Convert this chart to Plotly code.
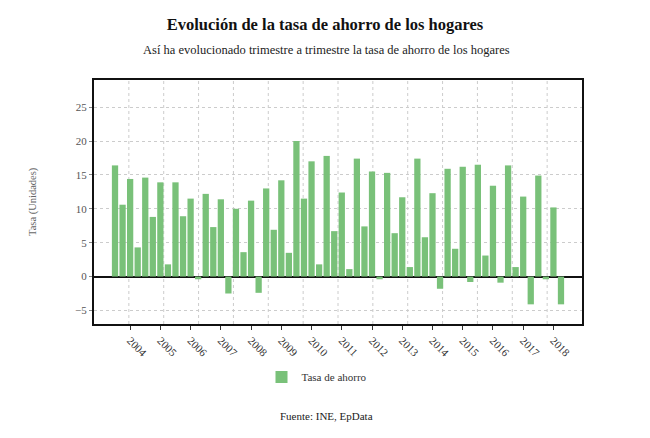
import plotly.graph_objects as go

# Quarterly household saving rate (INE), 2003T3 .. 2018T2
quarters = [f"{y}T{q}" for y in range(2003, 2019) for q in range(1, 5)][2:62]
values = [
    16.4, 10.6, 14.4, 4.3, 14.6, 8.8, 13.9, 1.8, 13.9, 8.9,
    11.5, -0.4, 12.2, 7.3, 11.4, -2.5, 10.0, 3.6, 11.2, -2.4,
    13.0, 6.9, 14.2, 3.5, 20.0, 11.5, 17.0, 1.8, 17.8, 6.7,
    12.4, 1.1, 17.4, 7.4, 15.5, -0.4, 15.3, 6.4, 11.7, 1.4,
    17.4, 5.8, 12.3, -1.8, 15.9, 4.1, 16.2, -0.8, 16.5, 3.1,
    13.4, -0.9, 16.4, 1.4, 11.8, -4.1, 14.9, -0.4, 10.2, -4.1,
]
year_ticks = [f"{y}T1" for y in range(2004, 2019)]
year_labels = [str(y) for y in range(2004, 2019)]
y_ticks = [-5, 0, 5, 10, 15, 20, 25]

SERIF = "Liberation Serif"
GREEN = "#79c179"

fig = go.Figure()
fig.add_trace(go.Bar(
    x=quarters, y=values, name="Tasa de ahorro",
    marker=dict(color=GREEN, line=dict(width=0)),
))

shapes = []
for i in range(1, 14):
    shapes.append(dict(type="line", xref="x domain", yref="y domain",
                       x0=i / 14, x1=i / 14, y0=0, y1=1,
                       line=dict(color="#cccccc", width=1, dash="dot"),
                       layer="below"))

fig.update_layout(
    width=650, height=438,
    margin=dict(l=94, r=68, t=80, b=114, autoexpand=False),
    paper_bgcolor="white", plot_bgcolor="white",
    font=dict(family=SERIF, color="#333333", size=11),
    bargap=0.17,
    title=dict(text="<b>Evolución de la tasa de ahorro de los hogares</b>",
               x=0.5, xanchor="center", y=1 - 24 / 438, yanchor="middle",
               yref="container", font=dict(size=16.5, color="#111111", family=SERIF)),
    showlegend=True,
    legend=dict(orientation="h", x=0.5 - 8 / 650, xanchor="center", xref="container",
                y=1 - 377 / 438, yanchor="middle", yref="container",
                font=dict(size=11, color="#333333", family=SERIF),
                itemwidth=30),
    shapes=shapes,
    xaxis=dict(type="category", range=[-2.78, 61.78], automargin=False,
               tickmode="array", tickvals=year_ticks, ticktext=year_labels,
               tickangle=45, ticks="outside", ticklen=4, tickcolor="#333333",
               tickfont=dict(size=11, color="#333333", family=SERIF),
               showgrid=False, showline=True, mirror=True,
               linecolor="#111111", linewidth=2, zeroline=False),
    yaxis=dict(range=[-7, 29], tickmode="array", tickvals=y_ticks, automargin=False,
               ticks="outside", ticklen=3, tickcolor="#888888",
               tickfont=dict(size=11, color="#555555", family=SERIF),
               showgrid=True, gridcolor="#cccccc", griddash="dot", gridwidth=1,
               zeroline=True, zerolinecolor="#111111", zerolinewidth=2,
               showline=True, mirror=True, linecolor="#111111", linewidth=2),
    annotations=[
        dict(text="Así ha evolucionado trimestre a trimestre la tasa de ahorro de los hogares",
             xref="paper", yref="paper", x=0.5 - 12 / 488, y=(324 - 50) / 244,
             xanchor="center", yanchor="middle", showarrow=False,
             font=dict(size=12.5, color="#222222", family=SERIF)),
        dict(text="Tasa (Unidades)", xref="paper", yref="paper",
             x=(33 - 94) / 488, y=0.5, textangle=-90,
             xanchor="center", yanchor="middle", showarrow=False,
             font=dict(size=10.5, color="#666666", family=SERIF)),
        dict(text="Fuente: INE, EpData", xref="paper", yref="paper",
             x=0.5 - 12 / 488, y=(324 - 416) / 244,
             xanchor="center", yanchor="middle", showarrow=False,
             font=dict(size=11, color="#222222", family=SERIF)),
    ],
)

fig.write_html("out.html")
